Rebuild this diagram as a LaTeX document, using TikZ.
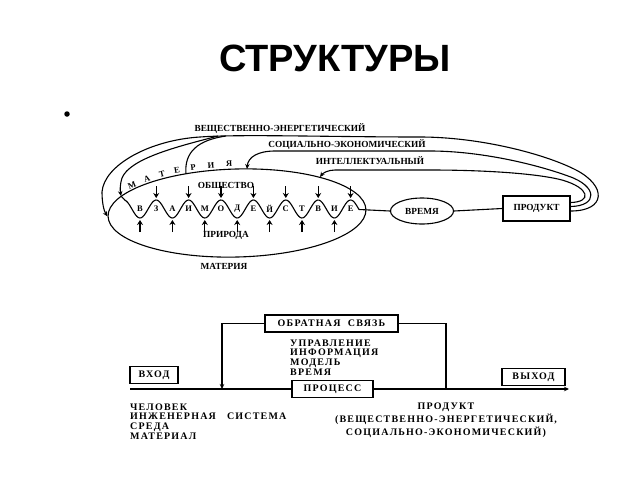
\documentclass[tikz,border=0pt]{standalone}
\usepackage{fontspec}
\setmainfont{Liberation Serif}
\newfontfamily\titlefont{Liberation Sans}
\newfontfamily\lowfont{Liberation Serif}[LetterSpace=12]
\usetikzlibrary{shapes.geometric,arrows.meta,positioning,calc}

\tikzset{
  toplab/.style={font=\bfseries\fontsize{9.3}{10}\selectfont, inner sep=0pt},
  wavelab/.style={font=\bfseries\fontsize{8.5}{9}\selectfont, inner sep=0pt},
  lowlab/.style={font=\lowfont\bfseries\fontsize{10}{9.7}\selectfont, inner sep=0pt},
  lbox/.style={draw, line width=1.6pt, lowlab},
  link/.style={line width=1.1pt},
  tick/.style={line width=1.1pt, -{Stealth[length=5pt,width=6pt]}},
  tip/.style={-{Stealth[length=5pt,width=4.5pt]}},
}

\begin{document}
\begin{tikzpicture}[x=1pt,y=-1pt]
\useasboundingbox (0,0) rectangle (640,480);
% Title
\node[font=\titlefont\bfseries\fontsize{38}{40}\selectfont] (title) at (335,58) {СТРУКТУРЫ};
\node[circle,fill,inner sep=0pt,minimum size=5.5pt] (dot) at (67,114) {};

% Upper scheme
\node[draw,ellipse,link,minimum width=258pt,minimum height=88pt,rotate=1.5] (matter) at (237,213) {};
\node[draw,ellipse,link,toplab,minimum width=63pt,minimum height=26pt] (time) at (422,211) {ВРЕМЯ};
\node[draw,line width=1.6pt,toplab,minimum width=67pt,minimum height=25pt] (prod) at (536.5,208.5) {ПРОДУКТ};
\node[toplab] (lblA) at (280,129) {ВЕЩЕСТВЕННО-ЭНЕРГЕТИЧЕСКИЙ};
\node[toplab] (lblB) at (347,145) {СОЦИАЛЬНО-ЭКОНОМИЧЕСКИЙ};
\node[toplab] (lblC) at (370,161) {ИНТЕЛЛЕКТУАЛЬНЫЙ};
\node[toplab] (soc) at (226,186) {ОБЩЕСТВО};
\node[toplab] (nat) at (226,235) {ПРИРОДА};
\node[toplab] (mat) at (224,266) {МАТЕРИЯ};
% letters along the arc
\foreach \l/\px/\py/\a [count=\k] in {М/132/185/23, А/147/179/18, Т/162/174/13, Е/177/170/10, Р/193/167/7, И/211/165/4, Я/229/163.5/2}
  \node[wavelab,rotate=\a] (m\k) at (\px,\py) {\l};

\coordinate (tB) at (247,169);
\coordinate (tC) at (320,177);
\coordinate (tI) at (121,196);
\coordinate (tP) at (186,174);
\coordinate (wend) at (359,209.5);

% interaction wave
\draw[link] (tI) -- plot[domain=125:359,samples=160,smooth] (\x,{209+9*cos((\x-140)/16.2*180)});
\foreach \l [count=\i from 0] in {В,З,А,И,М,О,Д,Е,Й,С,Т,В,И,Е}
  \node[wavelab] (w\i) at ({140+16.2*\i},209) {\l};
\foreach \i in {1,3,...,13}
  \draw[tick] ({140+16.2*\i},186) -- ++(0,12);
\foreach \i in {0,2,...,12}
  \draw[tick] ({140+16.2*\i},232) -- ++(0,-12);
\draw[link] (wend) -- (time.west);
\draw[link] (time.east) -- (prod.west);

% feedback loops
\draw[link,tip] ([yshift=-2.5pt]prod.east) .. controls (606,211) and (607,186) .. (576,170)
  .. controls (545,154) and (480,137) .. (420,137) .. controls (330,137) and (240,134) .. (200,137)
  .. controls (150,140) and (104,165) .. (102,192) .. controls (102,203) and (104,211) .. (matter.west);
\draw[link,tip] (218,136) .. controls (180,146) and (130,158) .. (122,178) .. controls (120,184) and (120,190) .. (tI);
\draw[link] (226,136) .. controls (198,140) and (184,152) .. (tP);
\draw[link,tip] ([yshift=2pt]prod.east) .. controls (598,206) and (598,186) .. (568,176)
  .. controls (535,164) and (480,151) .. (430,151) -- (275,151) .. controls (258,151) and (248,157) .. (tB);
\draw[link,tip] ([yshift=6pt]prod.east) .. controls (592,202) and (590,188) .. (562,180)
  .. controls (535,173) and (480,170) .. (430,170) -- (335,170) .. controls (328,170) and (323,173) .. (tC);

% Lower scheme
\node[lbox,minimum width=133pt,minimum height=17pt] (feed) at (331.5,323.5) {ОБРАТНАЯ\ \ СВЯЗЬ};
\node[lbox,minimum width=48pt,minimum height=17pt] (inp) at (154,375) {ВХОД};
\node[lbox,minimum width=63pt,minimum height=17pt] (outp) at (533.5,377) {ВЫХОД};
\node[lbox,minimum width=81pt,minimum height=17pt] (proc) at (332.5,389) {ПРОЦЕСС};
\coordinate (lin) at (130,389);
\coordinate (lout) at (569,389);
\coordinate (fbL) at (222,389);
\coordinate (fbR) at (446,389);
\draw[link] (lin) -- (proc.west);
\draw[link,tip] (proc.east) -- (lout);
\draw[link] (fbR) |- (feed.east);
\draw[link,tip] (feed.west) -| (fbL);
\node[lowlab,align=left,anchor=west] (ctrl) at (290,357.5) {УПРАВЛЕНИЕ\\ИНФОРМАЦИЯ\\МОДЕЛЬ\\ВРЕМЯ};
\node[lowlab,align=left,anchor=west] (res) at (130,421.5) {ЧЕЛОВЕК\\ИНЖЕНЕРНАЯ\ \ \ СИСТЕМА\\СРЕДА\\МАТЕРИАЛ};
\node[lowlab,align=center] (prodtxt) at (446,420.5) {ПРОДУКТ\\[1.5pt](ВЕЩЕСТВЕННО-ЭНЕРГЕТИЧЕСКИЙ,\\[1.5pt]СОЦИАЛЬНО-ЭКОНОМИЧЕСКИЙ)};
\end{tikzpicture}
\end{document}
